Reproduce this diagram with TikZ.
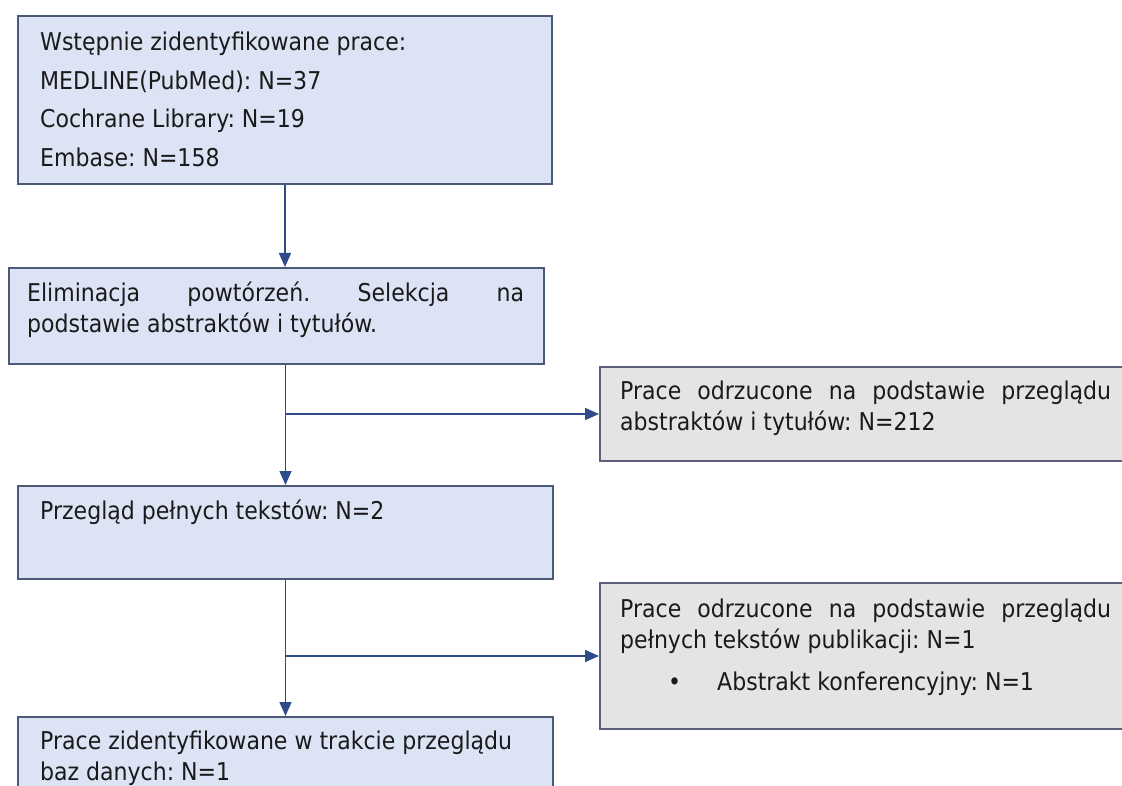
\documentclass[tikz,border=0pt]{standalone}
\usepackage{fontspec}
\setmainfont{DejaVu Sans Condensed}
\usetikzlibrary{arrows.meta}
\frenchspacing

\definecolor{stagefill}{HTML}{DCE3F5}
\definecolor{stageline}{HTML}{4A5A78}
\definecolor{rejectfill}{HTML}{E4E4E7}
\definecolor{rejectline}{HTML}{5C6079}
\definecolor{flowblue}{HTML}{2E4C8C}
\definecolor{inktext}{HTML}{1A1A1A}

\tikzset{
  stage/.style={draw=stageline, fill=stagefill, line width=2pt, anchor=north west, inner sep=0pt},
  reject/.style={stage, draw=rejectline, fill=rejectfill},
  boxtext/.style={anchor=north west, inner sep=0pt, align=justify, text=inktext, font=\fontsize{24.5}{31}\selectfont},
  flow/.style={draw=flowblue, line width=1.6pt, -{Triangle[length=14pt,width=12pt]}}
}

\begin{document}
\begin{tikzpicture}[x=1pt,y=-1pt]
\useasboundingbox (0,0) rectangle (1122,786);
\clip (0,0) rectangle (1122,786);
\fill[white] (0,0) rectangle (1122,786);
\node[stage, minimum width=534pt, minimum height=168pt] (b1) at (17,15) {};
\node[stage, minimum width=535pt, minimum height=96pt] (b2) at (8,267) {};
\node[stage, minimum width=535pt, minimum height=93pt] (b3) at (17,485) {};
\node[stage, minimum width=535pt, minimum height=110pt] (b4) at (17,716) {};
\node[reject, minimum width=560pt, minimum height=94pt] (r1) at (599,366) {};
\node[reject, minimum width=560pt, minimum height=146pt] (r2) at (599,582) {};
\node[boxtext, text width=488pt] (t1) at ([xshift=23pt, yshift=-17pt]b1.north west)
  {Wstępnie zidentyfikowane prace:\\[7.5pt] MEDLINE(PubMed): N=37\\[7.5pt] Cochrane Library: N=19\\[7.5pt] Embase: N=158};
\node[boxtext, text width=497pt] (t2) at ([xshift=19pt, yshift=-15pt]b2.north west)
  {Eliminacja powtórzeń. Selekcja na\linebreak podstawie abstraktów i tytułów.};
\node[boxtext, text width=488pt] (t3) at ([xshift=23pt, yshift=-15pt]b3.north west)
  {Przegląd pełnych tekstów: N=2};
\node[boxtext, text width=488pt] (t4) at ([xshift=23pt, yshift=-15pt]b4.north west)
  {Prace zidentyfikowane w trakcie przeglądu\\ baz danych: N=1};
\node[boxtext, text width=491pt] (s1) at ([xshift=21pt, yshift=-15pt]r1.north west)
  {Prace odrzucone na podstawie przeglądu\linebreak abstraktów i tytułów: N=212};
\node[boxtext, text width=491pt] (s2) at ([xshift=21pt, yshift=-17pt]r2.north west)
  {Prace odrzucone na podstawie przeglądu\linebreak pełnych tekstów publikacji: N=1\\[11pt]
   \hspace*{48pt}\makebox[49pt][l]{•}Abstrakt konferencyjny: N=1};
\coordinate (j1) at (b3.north |- r1.west);
\coordinate (j2) at (b3.south |- r2.west);
\draw[flow] (b1.south) -- (b1.south |- b2.north);
\draw[flow] (b3.north |- b2.south) -- (b3.north);
\draw[flow] (j1) -- (r1.west);
\draw[flow] (b3.south) -- (b4.north);
\draw[flow] (j2) -- (r2.west);
\end{tikzpicture}
\end{document}
